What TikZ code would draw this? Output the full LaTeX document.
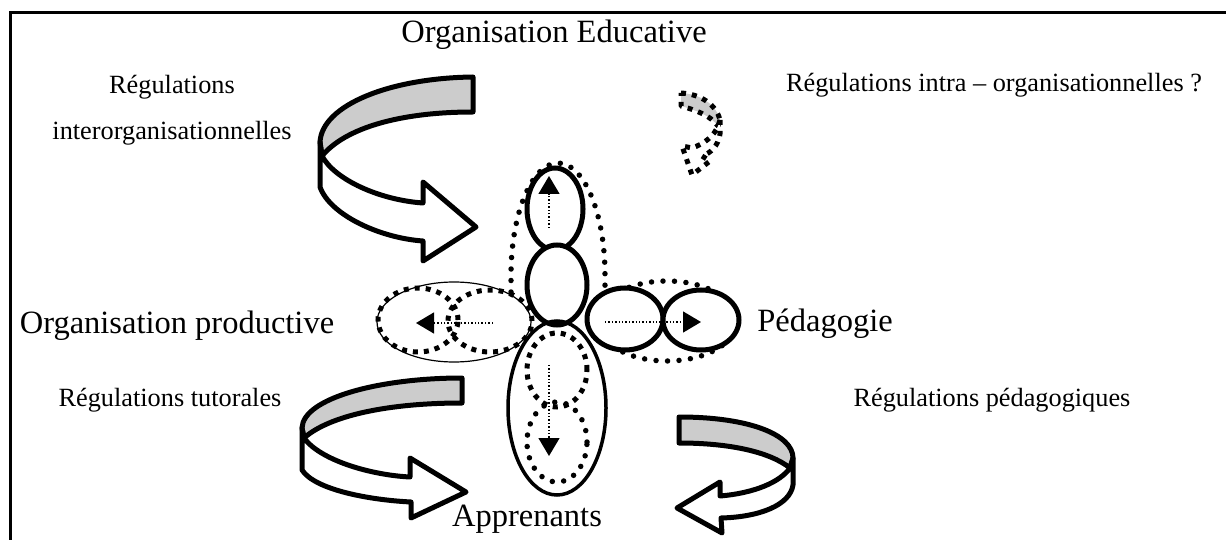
\documentclass[tikz,border=0pt]{standalone}
\usepackage{fontspec}
\setmainfont{Liberation Serif}
\usetikzlibrary{shapes.geometric,arrows.meta}
\definecolor{bandgrey}{RGB}{204,204,204}
\tikzset{
  frameline/.style={line width=3pt},
  bigtext/.style={inner sep=0pt, anchor=base, font=\fontsize{32.5}{38}\selectfont},
  smalltext/.style={inner sep=0pt, anchor=base, font=\fontsize{26.3}{30}\selectfont},
  ring/.style={ellipse, draw, inner sep=0pt, line width=5pt},
  thinring/.style={ellipse, draw, inner sep=0pt, line width=1.2pt},
  rdots/.style={line width=5.5pt, line cap=round, dash pattern=on 0pt off 11.5pt},
  sqdots/.style={line width=5pt, dash pattern=on 5pt off 6pt},
  finedots/.style={line width=1.4pt, dash pattern=on 1.4pt off 2pt,
    -{Triangle[length=18pt 0 0,width=21pt 0 0]}},
  ribbon/.style={line width=5pt, line join=round},
  miniribbon/.style={line width=5pt, line join=round, dash pattern=on 5pt off 6pt},
}
\begin{document}
\begin{tikzpicture}[x=1pt,y=-1pt]
\useasboundingbox (0,0) rectangle (1226,540);

% open frame: left and top rules
\draw[frameline] (10,542) -- (10,13) -- (1228,13);

% labels
\node[bigtext]   (orgedu)  at (554,43)  {Organisation Educative};
\node[bigtext]   (orgprod) at (177,333) {Organisation productive};
\node[bigtext]   (peda)    at (825,331) {Pédagogie};
\node[bigtext]   (appr)    at (527,526) {Apprenants};
\node[smalltext] (reginterA) at (172,94)  {Régulations};
\node[smalltext] (reginterB) at (172,140) {interorganisationnelles};
\node[smalltext] (regintra)  at (994,92)  {Régulations intra – organisationnelles ?};
\node[smalltext] (regtut)    at (170,406) {Régulations tutorales};
\node[smalltext] (regpeda)   at (992,406) {Régulations pédagogiques};

% ---- upper petal: dotted hood around two stacked rings
\draw[rdots] (511,292) -- (511,275) .. controls (511,213) and (532,163) .. (558,163)
  .. controls (584,163) and (605,213) .. (605,275) -- (605,292);
\node[ring, minimum width=56pt, minimum height=82pt] (topring) at (555,209) {};
\node[ring, minimum width=60pt, minimum height=80pt, fill=white] (midring) at (557,285) {};
\coordinate (upS) at (549,228);
\coordinate (upE) at (549,176);
\draw[finedots] (upS) -- (upE);

% ---- right petal
\node[ellipse, draw, inner sep=0pt, rdots, minimum width=140pt, minimum height=80pt] (rightout) at (667,321) {};
\node[ring, minimum width=76pt, minimum height=62pt, fill=white] (rightA) at (625,319) {};
\node[ring, minimum width=76pt, minimum height=60pt, fill=white] (rightB) at (701,320) {};
\coordinate (rtS) at (605,322);
\coordinate (rtE) at (701,322);
\draw[finedots] (rtS) -- (rtE);

% ---- left petal
\node[thinring, minimum width=154pt, minimum height=80pt] (leftout) at (454,322) {};
\node[ellipse, draw, inner sep=0pt, sqdots, minimum width=80pt, minimum height=64pt] (leftA) at (418,320) {};
\node[ellipse, draw, inner sep=0pt, sqdots, minimum width=84pt, minimum height=62pt] (leftB) at (490,321) {};
\coordinate (lfS) at (493,323);
\coordinate (lfE) at (416,323);
\draw[finedots] (lfS) -- (lfE);

% ---- lower petal
\node[ellipse, draw, inner sep=0pt, line width=3.5pt, minimum width=98pt, minimum height=174pt] (lowout) at (557,408) {};
\node[ellipse, draw, inner sep=0pt, sqdots, minimum width=60pt, minimum height=74pt] (lowA) at (557,370) {};
\node[ellipse, draw, inner sep=0pt, rdots, minimum width=60pt, minimum height=80pt] (lowB) at (557,442) {};
\coordinate (dnS) at (549,365);
\coordinate (dnE) at (549,456);
\draw[finedots] (dnS) -- (dnE);

% ---- ribbon arrow, upper left
\draw[ribbon, fill=bandgrey] (473,77) .. controls (390,78) and (322,105) .. (320,142)
  -- (322,156) .. controls (345,128) and (400,112) .. (473,112) -- cycle;
\draw[ribbon, fill=white] (320,142) -- (320,187) .. controls (330,215) and (380,238) .. (423,241)
  -- (423,261) -- (476,227) -- (423,182) -- (423,203)
  .. controls (380,200) and (335,180) .. (322,156) -- cycle;

% ---- ribbon arrow, lower left
\draw[ribbon, fill=bandgrey] (462,378) .. controls (380,378) and (303,398) .. (302,428)
  -- (304,438) .. controls (330,415) and (390,403) .. (462,403) -- cycle;
\draw[ribbon, fill=white] (302,428) -- (302,470) .. controls (315,490) and (370,500) .. (411,502)
  -- (411,518) -- (466,492) -- (410,458) -- (410,477)
  .. controls (370,475) and (320,460) .. (304,438) -- cycle;

% ---- ribbon arrow, lower right
\draw[ribbon, fill=bandgrey] (679,417) .. controls (750,417) and (793,435) .. (793,458)
  -- (790,468) .. controls (770,452) and (730,443) .. (679,443) -- cycle;
\draw[ribbon, fill=white] (793,458) -- (793,485) .. controls (790,505) and (760,517) .. (721,518)
  -- (722,533) -- (677,508) -- (720,482) -- (720,496)
  .. controls (755,493) and (780,482) .. (790,468) -- cycle;

% ---- small dashed ribbon, upper right
\draw[miniribbon, fill=bandgrey] (681,93) .. controls (700,94) and (716,104) .. (720,120)
  -- (718,126) .. controls (710,115) and (695,110) .. (681,106) -- cycle;
\draw[miniribbon, fill=white] (720,120) -- (720,134) .. controls (718,146) and (711,153) .. (702,156)
  -- (710,161) -- (692,175) -- (682,146) -- (692,148)
  .. controls (704,144) and (714,136) .. (718,126) -- cycle;
\end{tikzpicture}
\end{document}
